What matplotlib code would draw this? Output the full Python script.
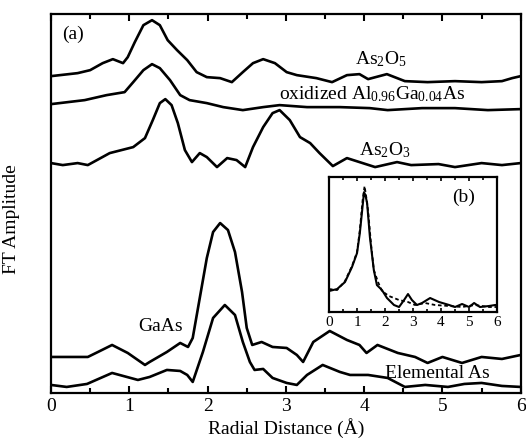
import numpy as np
import matplotlib
matplotlib.use("Agg")
import matplotlib.pyplot as plt

# FT amplitudes (arbitrary units), R in Angstrom
r_as2o5 = [0, 0.34, 0.50, 0.66, 0.79, 0.92, 0.98, 1.07, 1.18, 1.29, 1.39, 1.49, 1.61, 1.74, 1.86, 1.99,
           2.16, 2.31, 2.45, 2.58, 2.71, 2.86, 3.01, 3.14, 3.39, 3.59, 3.78, 3.94, 4.05, 4.29, 4.52, 4.81,
           5.16, 5.50, 5.76, 5.89, 6.0]
a_as2o5 = [317, 320, 323, 330, 334, 330, 336, 351, 368, 373, 368, 353, 343, 333, 321, 316,
           315, 311, 321, 330, 334, 330, 321, 318, 315, 311, 318, 319, 314, 319, 312, 311,
           312, 311, 312, 315, 317]

r_oxid = [0, 0.43, 0.71, 0.94, 1.05, 1.18, 1.29, 1.39, 1.52, 1.65, 1.77, 1.99, 2.2, 2.45, 2.71, 2.92,
          3.27, 3.69, 4.07, 4.3, 4.74, 5.16, 5.58, 6.0]
a_oxid = [289, 293, 298, 301, 311, 323, 329, 325, 313, 298, 293, 290, 286, 283, 286, 288,
          286, 286, 285, 283, 285, 285, 283, 284]

r_as2o3 = [0, 0.15, 0.34, 0.47, 0.75, 1.05, 1.2, 1.30, 1.39, 1.46, 1.54, 1.62, 1.71, 1.80, 1.90, 1.99,
           2.12, 2.25, 2.37, 2.48, 2.58, 2.71, 2.83, 2.92, 3.05, 3.18, 3.31, 3.43, 3.60, 3.78, 3.94, 4.14,
           4.42, 4.6, 4.95, 5.16, 5.5, 5.76, 6.0]
a_as2o3 = [230, 228, 230, 228, 240, 246, 255, 273, 290, 294, 288, 270, 243, 231, 240, 236,
           226, 235, 233, 226, 246, 266, 280, 283, 273, 256, 250, 240, 227, 235, 231, 226,
           231, 228, 229, 226, 230, 228, 230]

r_gaas = [0, 0.47, 0.6, 0.78, 0.98, 1.2, 1.26, 1.48, 1.65, 1.75, 1.81, 1.90, 1.99, 2.07, 2.16, 2.26,
          2.35, 2.44, 2.50, 2.57, 2.69, 2.83, 3.01, 3.14, 3.22, 3.35, 3.56, 3.78, 3.94, 4.03, 4.17, 4.43,
          4.65, 4.81, 5.0, 5.25, 5.50, 5.76, 6.0]
a_gaas = [36, 36, 41, 48, 40, 28, 31, 41, 50, 46, 55, 95, 135, 161, 170, 163,
          141, 101, 65, 48, 51, 46, 45, 38, 31, 51, 62, 53, 48, 40, 48, 40,
          36, 30, 36, 30, 36, 34, 38]

r_elem = [0, 0.2, 0.46, 0.78, 1.11, 1.26, 1.48, 1.65, 1.74, 1.81, 1.94, 2.07, 2.22, 2.35, 2.45, 2.54,
          2.60, 2.71, 2.83, 3.01, 3.14, 3.27, 3.47, 3.69, 3.82, 4.05, 4.3, 4.52, 4.78, 5.07, 5.28, 5.5,
          5.76, 6.0]
a_elem = [8, 6, 9, 20, 13, 16, 23, 22, 18, 11, 41, 75, 88, 78, 51, 31,
          23, 24, 15, 10, 8, 18, 28, 21, 18, 18, 15, 6, 8, 6, 9, 10,
          7, 6]

# inset (b)
r_b_solid = [0, 0.29, 0.57, 0.82, 1.0, 1.1, 1.21, 1.25, 1.30, 1.36, 1.46, 1.6, 1.71, 1.89, 2.07, 2.32,
             2.5, 2.68, 2.82, 2.96, 3.14, 3.32, 3.61, 3.93, 4.29, 4.5, 4.75, 5.0, 5.18, 5.39, 5.71, 5.93, 6.0]
a_b_solid = [21, 23, 30, 45, 59, 79, 109, 120, 117, 109, 75, 42, 27, 22, 14, 7,
             5, 12, 18, 12, 7, 9, 14, 10, 7, 5, 8, 5, 9, 5, 6, 7, 7]
r_b_dash = [0, 0.29, 0.57, 0.82, 1.0, 1.1, 1.2, 1.27, 1.33, 1.4, 1.5, 1.6, 1.75, 1.89, 2.14, 2.5,
            2.82, 3.07, 3.43, 3.79, 4.29, 4.75, 5.21, 5.71, 6.0]
a_b_dash = [23, 22, 31, 46, 60, 82, 112, 126, 115, 100, 68, 42, 30, 21, 16, 12,
            10, 7, 9, 7, 6, 5, 7, 5, 5]

plt.rcParams['font.family'] = ['Liberation Serif', 'DejaVu Serif']
plt.rcParams['mathtext.fontset'] = 'custom'
plt.rcParams['mathtext.rm'] = 'Liberation Serif'
plt.rcParams['mathtext.it'] = 'Liberation Serif'

fig = plt.figure(figsize=(5.26, 4.43), dpi=100)
ax = fig.add_axes([0.097, 0.113, 0.893, 0.855])

lw = 1.9
for r, a in [(r_as2o5, a_as2o5), (r_oxid, a_oxid), (r_as2o3, a_as2o3), (r_gaas, a_gaas), (r_elem, a_elem)]:
    ax.plot(r, a, color='black', lw=lw, solid_joinstyle='round', solid_capstyle='round')

ax.set_xlim(0, 6)
ax.set_ylim(0, 379)
ax.set_yticks([])
ax.set_xticks(np.arange(0, 7, 1))
ax.set_xticks(np.arange(0, 6.5, 0.5), minor=True)
ax.tick_params(axis='x', which='both', direction='in', top=True, bottom=True, width=1.5, labelsize=14)
ax.tick_params(axis='x', which='major', length=5)
ax.tick_params(axis='x', which='minor', length=3.5)
for s in ax.spines.values():
    s.set_linewidth(1.6)

ax.set_xlabel('Radial Distance (Å)', fontsize=14, labelpad=2)
ax.set_ylabel('FT Amplitude', fontsize=14)
ax.yaxis.set_label_coords(-0.065, 0.46)

fs = 14
ax.text(0.14, 359, '(a)', fontsize=fs, va='center')
ax.text(3.88, 334, r'As$_2$O$_5$', fontsize=fs, va='center')
ax.text(2.91, 299, r'oxidized Al$_{0.96}$Ga$_{0.04}$As', fontsize=fs, va='center')
ax.text(3.94, 243, r'As$_2$O$_3$', fontsize=fs, va='center')
ax.text(1.11, 66, 'GaAs', fontsize=fs, va='center')
ax.text(4.26, 19, 'Elemental As', fontsize=fs, va='center')

# inset
axb = fig.add_axes([0.6255, 0.2957, 0.3195, 0.3043])
axb.plot(r_b_solid, a_b_solid, color='black', lw=1.5, solid_joinstyle='round')
axb.plot(r_b_dash, a_b_dash, color='black', lw=1.3, linestyle=(0, (2, 1.5)))
axb.set_xlim(0, 6)
axb.set_ylim(0, 135)
axb.set_yticks([])
axb.set_xticks(np.arange(0, 7, 1))
axb.set_xticks(np.arange(0, 6.5, 0.5), minor=True)
axb.tick_params(axis='x', which='both', direction='in', top=True, bottom=True, width=1.2,
                labelsize=11, pad=3)
axb.tick_params(axis='x', which='major', length=3)
axb.tick_params(axis='x', which='minor', length=2)
for s in axb.spines.values():
    s.set_linewidth(1.6)
axb.text(4.39, 115, '(b)', fontsize=14, va='center')

fig.savefig('out.png', dpi=100)
